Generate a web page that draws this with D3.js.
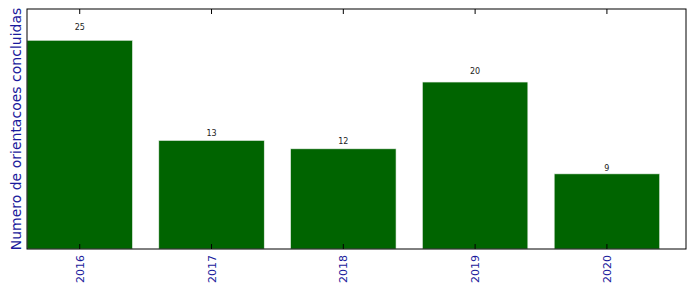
<!DOCTYPE html>
<html>
<head>
<meta charset="utf-8">
<script src="https://cdn.jsdelivr.net/npm/d3@7"></script>
<style>
  body { margin: 0; background: #fff; }
  text { font-family: "DejaVu Sans", sans-serif; }
</style>
</head>
<body>
<div id="chart"></div>
<script>
const years = ['2016', '2017', '2018', '2019', '2020'];
const counts = [25, 13, 12, 20, 9];
const yLabel = 'Numero de orientacoes concluidas';

const W = 696, H = 292;
const margin = { top: 9, right: 10, bottom: 43, left: 27 };
const width = W - margin.left - margin.right;
const height = H - margin.top - margin.bottom;

const svg = d3.select('#chart').append('svg')
    .attr('width', W)
    .attr('height', H);

const g = svg.append('g')
    .attr('transform', `translate(${margin.left}, ${margin.top})`);

// x: bar centers at 0..n-1, width 0.8, limits -0.4..n-0.4
const x = d3.scaleLinear().domain([-0.4, years.length - 0.4]).range([0, width]);
const y = d3.scaleLinear().domain([0, d3.max(counts) * 1.15]).range([height, 0]);

// bars
g.selectAll('.bar').data(counts)
  .enter().append('rect')
    .attr('class', 'bar')
    .attr('x', (d, i) => x(i - 0.4))
    .attr('y', d => y(d))
    .attr('width', x(0.8) - x(0))
    .attr('height', d => height - y(d))
    .style('fill', '#006400')
    .style('stroke', '#e8efe8')
    .style('stroke-width', 0.6);

// value labels, placed at 1.05 x value
g.selectAll('.val').data(counts)
  .enter().append('text')
    .attr('class', 'val')
    .attr('x', (d, i) => x(i))
    .attr('y', d => y(d * 1.05) + 0.5)
    .attr('text-anchor', 'middle')
    .style('font-size', '8px')
    .style('fill', '#222')
    .text(d => d);

// frame
g.append('rect')
    .attr('width', width)
    .attr('height', height)
    .style('fill', 'none')
    .style('stroke', '#000')
    .style('stroke-width', 1);

// ticks inside at bottom and top
years.forEach((yr, i) => {
  g.append('line')
    .attr('x1', x(i)).attr('x2', x(i))
    .attr('y1', height).attr('y2', height - 5)
    .style('stroke', '#000');
  g.append('line')
    .attr('x1', x(i)).attr('x2', x(i))
    .attr('y1', 0).attr('y2', 5)
    .style('stroke', '#000');
});

// rotated tick labels
g.selectAll('.xlab').data(years)
  .enter().append('text')
    .attr('class', 'xlab')
    .attr('transform', (d, i) => `translate(${x(i) + 4}, ${height + 6}) rotate(-90)`)
    .attr('text-anchor', 'end')
    .style('font-size', '11px')
    .style('fill', '#1a1a9c')
    .text(d => d);

// y label
svg.append('text')
    .attr('transform', `translate(${20.5}, ${margin.top + height / 2}) rotate(-90)`)
    .attr('text-anchor', 'middle')
    .style('font-size', '14px')
    .style('fill', '#1a1a9c')
    .text(yLabel);
</script>
</body>
</html>
